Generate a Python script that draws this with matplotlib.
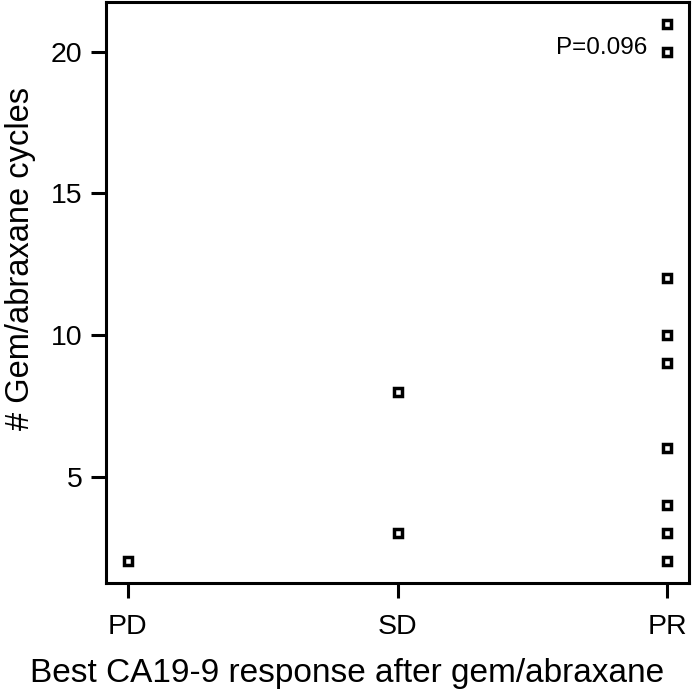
import matplotlib
matplotlib.use("Agg")
import matplotlib.pyplot as plt

# data
categories = ["PD", "SD", "PR"]
pd_cycles = [2]
sd_cycles = [3, 8]
pr_cycles = [2, 3, 4, 6, 9, 10, 12, 20, 21]
y_ticks = [5, 10, 15, 20]
p_label = "P=0.096"

plt.rcParams["font.family"] = ["Liberation Sans", "DejaVu Sans"]

fig = plt.figure(figsize=(6.96, 6.96), dpi=100)
ax = fig.add_axes([0.1523, 0.1624, 0.8377, 0.8347])

groups = [pd_cycles, sd_cycles, pr_cycles]
for i, vals in enumerate(groups):
    ax.plot([i + 1] * len(vals), vals, linestyle="none", marker="s",
            markersize=5.2, markerfacecolor="white", markeredgecolor="black",
            markeredgewidth=2.5)

# R-style 4% axis extension
ax.set_xlim(1 - 0.08, 3 + 0.08)
ax.set_ylim(2 - 0.76, 21 + 0.76)

ax.set_xticks([1, 2, 3])
ax.set_xticklabels(categories)
ax.set_yticks(y_ticks)
ax.tick_params(axis="both", length=11, width=2.2, labelsize=20.5, color="black")
ax.tick_params(axis="x", pad=11)
ax.tick_params(axis="y", pad=6)

for s in ax.spines.values():
    s.set_linewidth(2.2)

ax.text(2.926, 20.14, p_label, ha="right", va="center", fontsize=17.5)

fig.text(0.498, 0.033, "Best CA19-9 response after gem/abraxane", ha="center",
         va="center", fontsize=24)
fig.text(0.03, 0.629, "# Gem/abraxane cycles", ha="center", va="center",
         rotation=90, fontsize=23.5)

fig.savefig("out.png", dpi=100)
